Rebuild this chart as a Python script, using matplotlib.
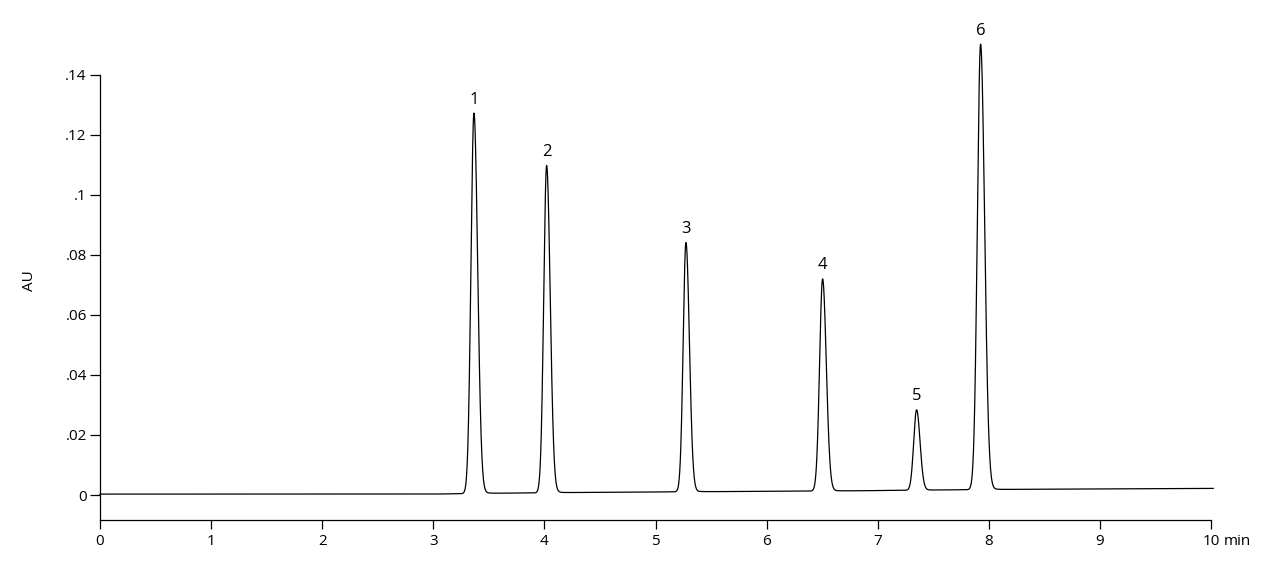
import math
import numpy as np
import matplotlib
matplotlib.use("Agg")
import matplotlib.pyplot as plt

plt.rcParams['font.family'] = ['Open Sans', 'DejaVu Sans']

# ---- data ----
peak_labels = ['1', '2', '3', '4', '5', '6']
peak_times = [3.366, 4.020, 5.274, 6.504, 7.350, 7.926]        # min
peak_heights = [0.1268, 0.1091, 0.0831, 0.0707, 0.0268, 0.1485]  # AU above baseline
peak_sigma_left = [0.027, 0.026, 0.025, 0.027, 0.026, 0.029]
peak_sigma_right = [0.033, 0.032, 0.031, 0.033, 0.031, 0.036]

baseline_times = [0.0, 3.0, 3.6, 4.5, 6.8, 7.6, 8.3, 10.02]
baseline_values = [0.0003, 0.0003, 0.0006, 0.0009, 0.0014, 0.0017, 0.0019, 0.0022]

y_ticks = [0, 0.02, 0.04, 0.06, 0.08, 0.10, 0.12, 0.14]
y_tick_labels = ['0', '.02', '.04', '.06', '.08', '.1', '.12', '.14']
x_ticks = [0, 1, 2, 3, 4, 5, 6, 7, 8, 9, 10]
x_tick_labels = ['0', '1', '2', '3', '4', '5', '6', '7', '8', '9', '10']

# ---- build trace from peak model ----
t = np.linspace(0, 10.02, 6000)
signal = np.interp(t, baseline_times, baseline_values)
for tr, h, sl, sr in zip(peak_times, peak_heights, peak_sigma_left, peak_sigma_right):
    s = np.where(t < tr, sl, sr)
    signal = signal + h * np.exp(-0.5 * ((t - tr) / s) ** 2)
    # small tailing foot
    tail = np.where(t > tr, np.exp(-(t - tr) / 0.05), 0.0)
    signal = signal + h * 0.012 * tail * (1 - np.exp(-0.5 * ((t - tr) / sr) ** 2))

fig = plt.figure(figsize=(12.8, 5.61), dpi=100)
ax = fig.add_axes([0.078125, 0.0731, 0.86797, 0.79323])
ax.plot(t, signal, color='black', linewidth=0.9, clip_on=False)

ax.set_xlim(0, 10)
ax.set_ylim(-0.00833, 0.14)
ax.spines['top'].set_visible(False)
ax.spines['right'].set_visible(False)
for sp in ('left', 'bottom'):
    ax.spines[sp].set_linewidth(0.9)

ax.set_xticks(x_ticks)
ax.set_xticklabels(x_tick_labels)
ax.set_yticks(y_ticks)
ax.set_yticklabels(y_tick_labels)
ax.tick_params(axis='x', direction='out', length=6.5, width=0.9, pad=3.5, labelsize=11)
ax.tick_params(axis='y', direction='out', length=7.0, width=0.9, pad=2.5, labelsize=11)

ax.annotate('min', xy=(10, 0), xycoords=('data', 'axes fraction'),
            xytext=(9.5, -10.0), textcoords='offset points',
            ha='left', va='top', fontsize=11)

ax.set_ylabel('AU', fontsize=11)
ax.yaxis.set_label_coords(-0.0567, 0.539)

for lab, tr, h in zip(peak_labels, peak_times, peak_heights):
    ypk = h + np.interp(tr, baseline_times, baseline_values)
    ax.annotate(lab, xy=(tr, ypk), xytext=(0, 4.0), textcoords='offset points',
                ha='center', va='bottom', fontsize=12, annotation_clip=False)

fig.savefig('out.png', dpi=100)
